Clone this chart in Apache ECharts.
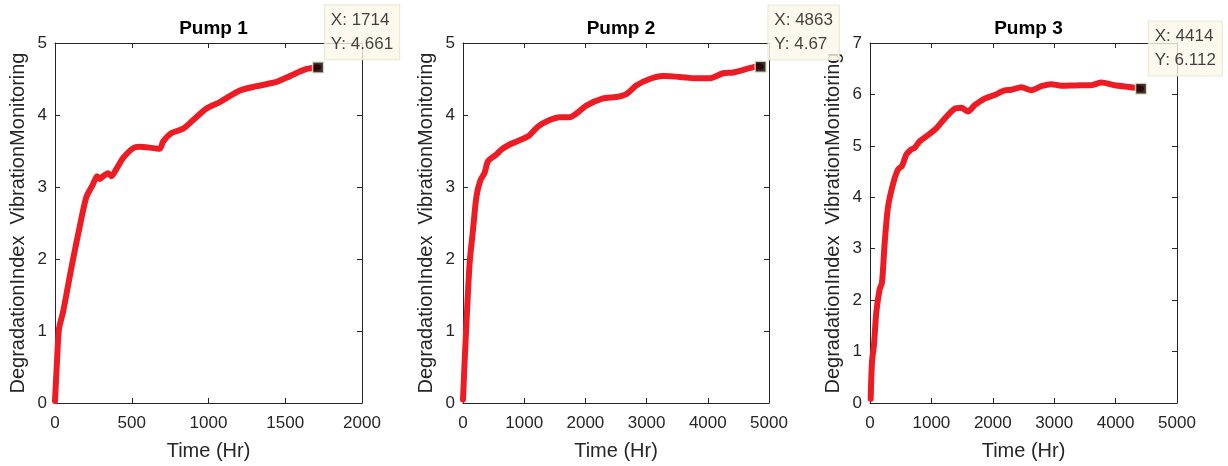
<!DOCTYPE html>
<html>
<head>
<meta charset="utf-8">
<script src="https://cdn.jsdelivr.net/npm/echarts@6/dist/echarts.min.js"></script>
<style>html,body{margin:0;padding:0;background:#fff}#c{width:1228px;height:466px}</style>
</head>
<body>
<div id="c"></div>
<script>
var titles = ['Pump 1', 'Pump 2', 'Pump 3'];
var xMax = [2000, 5000, 5000];
var xInterval = [500, 1000, 1000];
var yMax = [5, 5, 7];

var pump1 = [[0,0.03],[13,0.58],[26,1.03],[52,1.26],[85,1.63],[117,1.99],[161,2.45],[204,2.86],[248,3.04],[274,3.15],[291,3.11],[313,3.15],[346,3.19],[367,3.15],[400,3.25],[443,3.40],[509,3.54],[552,3.56],[639,3.54],[683,3.53],[704,3.63],[759,3.75],[835,3.81],[900,3.93],[987,4.09],[1074,4.18],[1204,4.34],[1313,4.40],[1443,4.46],[1530,4.54],[1639,4.64],[1714,4.661]];
var pump2 = [[0,0.05],[27,0.58],[65,1.26],[109,1.95],[163,2.40],[218,2.86],[283,3.09],[354,3.20],[409,3.36],[545,3.45],[626,3.52],[763,3.59],[871,3.63],[1008,3.68],[1089,3.72],[1225,3.84],[1416,3.93],[1580,3.97],[1743,3.97],[1852,4.02],[2015,4.13],[2288,4.23],[2505,4.25],[2669,4.29],[2832,4.41],[3050,4.50],[3268,4.54],[3649,4.52],[3758,4.51],[4031,4.51],[4248,4.58],[4412,4.59],[4684,4.65],[4847,4.68],[4863,4.67]];
var pump3 = [[11,0.08],[33,0.81],[65,1.13],[103,1.77],[157,2.21],[195,2.34],[239,3.11],[293,3.81],[375,4.26],[456,4.54],[521,4.61],[592,4.83],[673,4.93],[727,4.96],[809,5.09],[945,5.21],[1080,5.34],[1216,5.53],[1379,5.72],[1487,5.74],[1596,5.67],[1705,5.79],[1867,5.92],[2030,5.99],[2193,6.08],[2302,6.09],[2465,6.14],[2627,6.08],[2790,6.16],[2953,6.20],[3116,6.17],[3442,6.18],[3605,6.18],[3768,6.23],[3985,6.18],[4256,6.14],[4414,6.112]];
var pumps = [pump1, pump2, pump3];
var tipX = ['1714', '4863', '4414'];
var tipY = ['4.661', '4.67', '6.112'];
var tipOffset = [[13, -56], [14, -55], [14, -61]];

var grids = [
  {left: 55, width: 307, top: 43, height: 366},
  {left: 463, width: 306, top: 43, height: 366},
  {left: 870, width: 307, top: 43, height: 366}
];
var FONT = '"Liberation Sans", Arial, Helvetica, sans-serif';
var AX = '#262626';
function plain(v) { return String(v); }

var xAxes = [], yAxes = [], series = [], titleArr = [];
for (var i = 0; i < 3; i++) {
  var g = grids[i];
  titleArr.push({
    text: titles[i], left: g.left + g.width / 2, top: 14, textAlign: 'center',
    textStyle: {fontFamily: FONT, fontSize: 19, fontWeight: 'bold', color: '#000'}
  });
  xAxes.push({
    type: 'value', gridIndex: i, min: 0, max: xMax[i], interval: xInterval[i], position: 'bottom',
    name: 'Time (Hr)', nameLocation: 'middle', nameGap: 38,
    nameTextStyle: {fontFamily: FONT, fontSize: 20, color: AX},
    axisLine: {show: true, onZero: false, lineStyle: {color: AX, width: 1}},
    axisTick: {show: true, inside: true, length: 5, lineStyle: {color: AX}},
    axisLabel: {fontFamily: FONT, fontSize: 17, color: AX, margin: 12, formatter: plain},
    splitLine: {show: false}
  });
  xAxes.push({
    type: 'value', gridIndex: i, min: 0, max: xMax[i], interval: xInterval[i], position: 'top',
    axisLine: {show: true, onZero: false, lineStyle: {color: AX, width: 1}},
    axisTick: {show: true, inside: true, length: 5, lineStyle: {color: AX}},
    axisLabel: {show: false}, splitLine: {show: false}
  });
  yAxes.push({
    type: 'value', gridIndex: i, min: 0, max: yMax[i], interval: 1, position: 'left',
    name: 'DegradationIndex  VibrationMonitoring', nameLocation: 'middle', nameGap: 27,
    nameTextStyle: {fontFamily: FONT, fontSize: 20, color: AX},
    axisLine: {show: true, onZero: false, lineStyle: {color: AX, width: 1}},
    axisTick: {show: true, inside: true, length: 5, lineStyle: {color: AX}},
    axisLabel: {fontFamily: FONT, fontSize: 17, color: AX, margin: 8, formatter: plain},
    splitLine: {show: false}
  });
  yAxes.push({
    type: 'value', gridIndex: i, min: 0, max: yMax[i], interval: 1, position: 'right',
    axisLine: {show: true, onZero: false, lineStyle: {color: AX, width: 1}},
    axisTick: {show: true, inside: true, length: 5, lineStyle: {color: AX}},
    axisLabel: {show: false}, splitLine: {show: false}
  });
  series.push({
    type: 'line', xAxisIndex: 2 * i, yAxisIndex: 2 * i, data: pumps[i],
    showSymbol: false, symbol: 'none', smooth: 0.25, clip: true,
    lineStyle: {color: '#ED1C24', width: 6, cap: 'round', join: 'round'},
    z: 3, animation: false
  });
  (function (txt) {
    series.push({
      type: 'scatter', xAxisIndex: 2 * i, yAxisIndex: 2 * i,
      data: [[Number(tipX[i]), Number(tipY[i])]], symbol: 'rect', symbolSize: 11,
      itemStyle: {color: '#000', borderColor: '#eeeacb', borderWidth: 1.5},
      label: {
        show: true, position: tipOffset[i],
        formatter: function () { return txt; },
        fontFamily: FONT, fontSize: 17, color: '#111', lineHeight: 24,
        backgroundColor: '#fbf9ea', borderColor: '#e6e3cc', borderWidth: 1,
        padding: [3, 6, 3, 6], align: 'left', verticalAlign: 'top'
      },
      z: 10, animation: false, silent: true
    });
  })('X: ' + tipX[i] + '\nY: ' + tipY[i]);
}

var chart = echarts.init(document.getElementById('c'), null, {renderer: 'canvas'});
chart.setOption({
  backgroundColor: '#fff', animation: false,
  title: titleArr, grid: grids, xAxis: xAxes, yAxis: yAxes, series: series
});
</script>
</body>
</html>
